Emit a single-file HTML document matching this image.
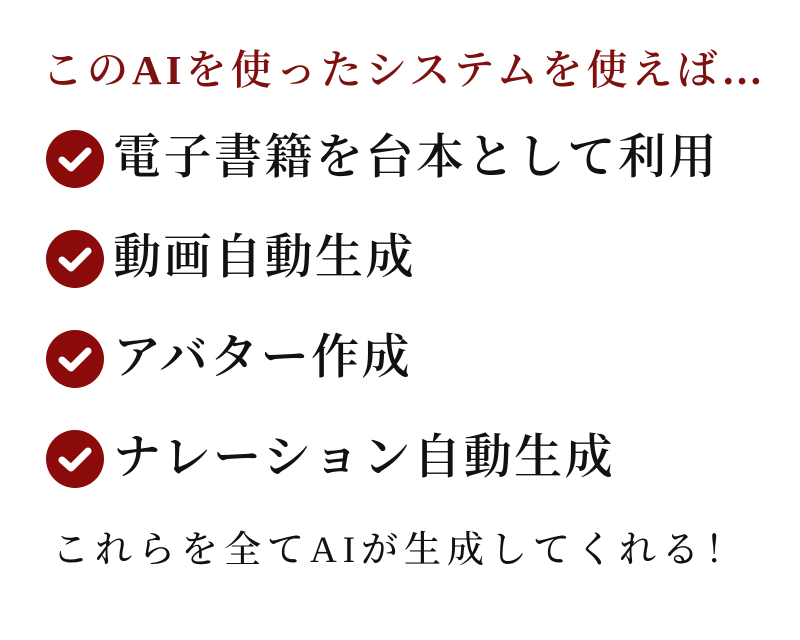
<!DOCTYPE html>
<html><head><meta charset="utf-8"><style>
body{margin:0;width:800px;height:640px;background:#fff;overflow:hidden;position:relative;font-family:"Liberation Serif","Noto Serif CJK SC",serif}
.t{position:absolute;white-space:nowrap;line-height:1}
.title{left:42px;top:50px;font-size:41px;color:#7f1010;letter-spacing:4px;font-weight:600}
.item{left:113px;font-size:48px;color:#111;letter-spacing:2.5px;font-weight:600}
.bot{left:52px;top:532px;font-size:37px;color:#111;letter-spacing:6px;font-weight:500}
svg{position:absolute;left:45px}
</style></head><body>
<div class="t title">このAIを使ったシステムを使えば…</div>
<svg style="top:129px" width="60" height="60" viewBox="0 0 60 60"><circle cx="30" cy="30" r="29" fill="#8b0a0a"/><path d="M17 31 L26 39 L43 22" stroke="#fff" stroke-width="7" fill="none" stroke-linecap="round" stroke-linejoin="round"/></svg>
<svg style="top:229px" width="60" height="60" viewBox="0 0 60 60"><circle cx="30" cy="30" r="29" fill="#8b0a0a"/><path d="M17 31 L26 39 L43 22" stroke="#fff" stroke-width="7" fill="none" stroke-linecap="round" stroke-linejoin="round"/></svg>
<svg style="top:329px" width="60" height="60" viewBox="0 0 60 60"><circle cx="30" cy="30" r="29" fill="#8b0a0a"/><path d="M17 31 L26 39 L43 22" stroke="#fff" stroke-width="7" fill="none" stroke-linecap="round" stroke-linejoin="round"/></svg>
<svg style="top:429px" width="60" height="60" viewBox="0 0 60 60"><circle cx="30" cy="30" r="29" fill="#8b0a0a"/><path d="M17 31 L26 39 L43 22" stroke="#fff" stroke-width="7" fill="none" stroke-linecap="round" stroke-linejoin="round"/></svg>
<div class="t item" style="top:134px">電子書籍を台本として利用</div>
<div class="t item" style="top:234px">動画自動生成</div>
<div class="t item" style="top:334px">アバター作成</div>
<div class="t item" style="top:434px">ナレーション自動生成</div>
<div class="t bot">これらを全てAIが生成してくれる！</div>
</body></html>
